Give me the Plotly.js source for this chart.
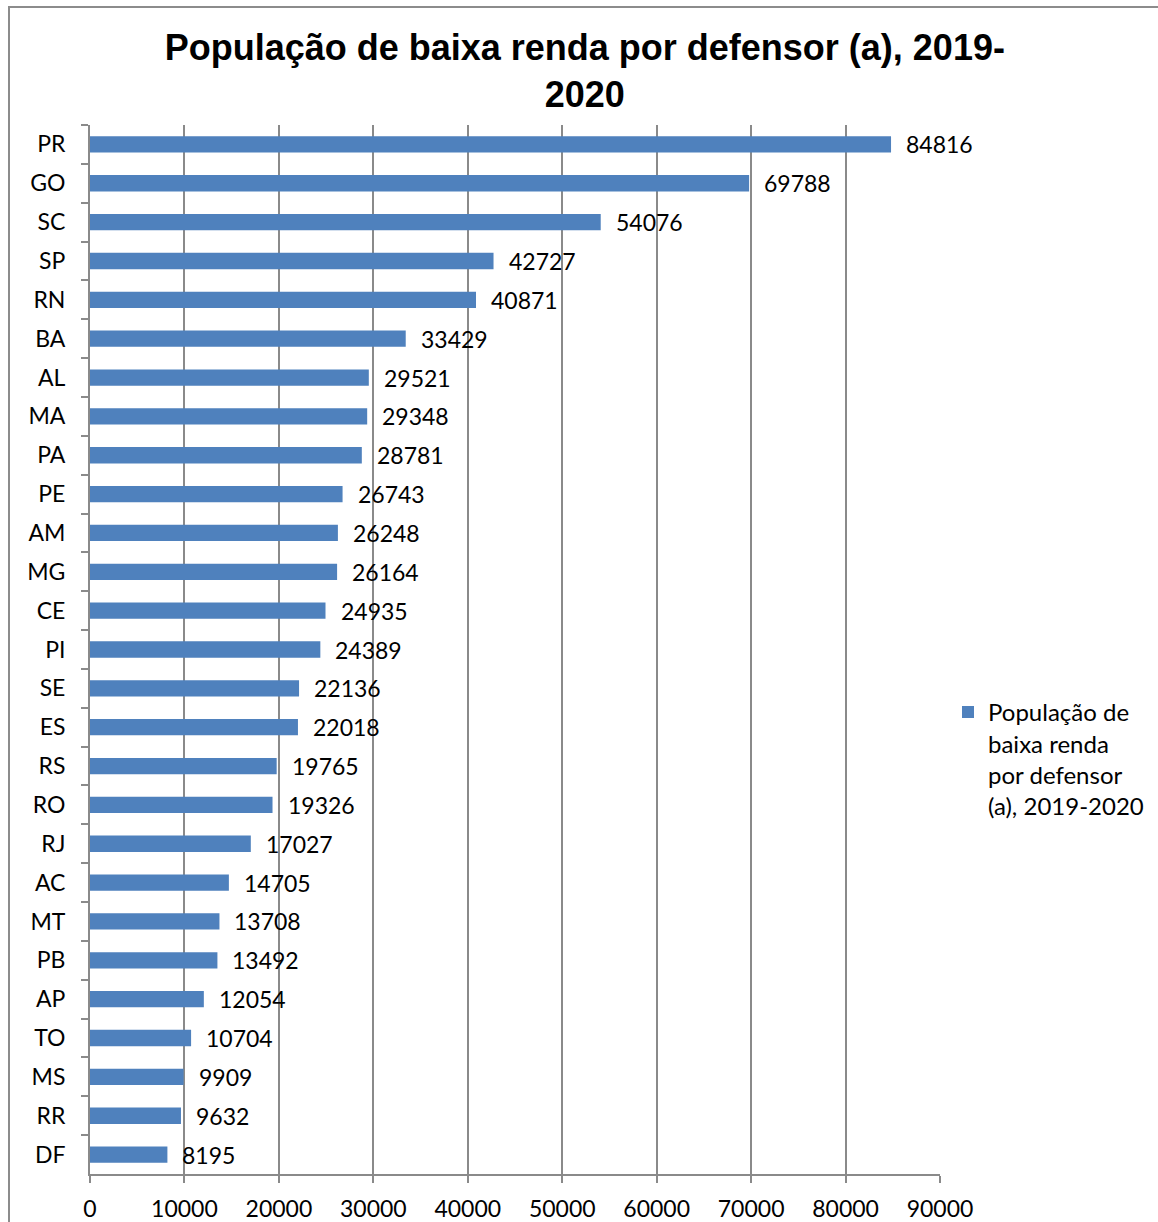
<!DOCTYPE html>
<html>
<head>
<meta charset="utf-8">
<script src="https://cdn.plot.ly/plotly-3.0.1.min.js"></script>
<style>
  html, body { margin: 0; padding: 0; background: #fff; }
  #chart { width: 1158px; height: 1222px; }
</style>
</head>
<body>
<div id="chart"></div>
<script>
const states = ["PR","GO","SC","SP","RN","BA","AL","MA","PA","PE","AM","MG","CE","PI","SE","ES","RS","RO","RJ","AC","MT","PB","AP","TO","MS","RR","DF"];
const values = [84816,69788,54076,42727,40871,33429,29521,29348,28781,26743,26248,26164,24935,24389,22136,22018,19765,19326,17027,14705,13708,13492,12054,10704,9909,9632,8195];
const seriesName = "População de<br>baixa renda<br>por defensor<br>(a), 2019-2020";
const chartTitle = "População de baixa renda por defensor (a), 2019-<br>2020";
const xTicks = [0,10000,20000,30000,40000,50000,60000,70000,80000,90000];

const labelFont = { family: "Lato, 'Open Sans', sans-serif", size: 23, color: "#000" };
const gridColor = "#8a8a8a";

const trace = {
  type: "bar",
  orientation: "h",
  y: states,
  x: values,
  name: seriesName,
  marker: { color: "#4F81BD", line: { width: 0 } },
  width: 0.42,
  showlegend: true,
  hoverinfo: "x+y"
};

const annotations = values.map((v, i) => ({
  x: v, y: states[i], xref: "x", yref: "y",
  text: String(v), showarrow: false,
  xanchor: "left", yanchor: "middle",
  xshift: 13, yshift: 0,
  font: labelFont
}));

const layout = {
  width: 1158, height: 1222,
  margin: { l: 90, r: 218, t: 125, b: 48, pad: 0, autoexpand: false },
  paper_bgcolor: "#fff", plot_bgcolor: "#fff",
  title: {
    text: chartTitle,
    font: { family: "'Liberation Sans', Arial, sans-serif", size: 36, color: "#000", weight: "bold" },
    x: 0.505, xanchor: "center", y: 0.9505, yanchor: "top"
  },
  xaxis: {
    range: [0, 90000],
    tickvals: xTicks,
    ticktext: xTicks.map(String),
    showgrid: true, gridcolor: gridColor, gridwidth: 2,
    zeroline: false,
    showline: true, linecolor: gridColor, linewidth: 2,
    ticks: "outside", ticklen: 7, tickwidth: 2, tickcolor: gridColor,
    tickfont: labelFont,
    ticklabelstandoff: 6,
    automargin: false,
    fixedrange: true
  },
  yaxis: {
    type: "category",
    autorange: "reversed",
    showgrid: false, zeroline: false,
    showline: true, linecolor: gridColor, linewidth: 2,
    ticks: "outside", tickson: "boundaries", ticklen: 7, tickwidth: 2, tickcolor: gridColor,
    tickfont: labelFont,
    ticklabelstandoff: 18,
    automargin: false,
    fixedrange: true
  },
  legend: {
    xref: "container", yref: "container",
    x: 948/1158, xanchor: "left", y: 0.379, yanchor: "middle",
    font: { family: "Lato, 'Open Sans', sans-serif", size: 24, color: "#000" },
    bgcolor: "rgba(0,0,0,0)",
    valign: "top",
    itemwidth: 30
  },
  annotations: annotations,
  shapes: [{
    type: "rect", xref: "paper", yref: "paper",
    x0: -81/850, x1: 1.6, y0: -0.2, y1: 1167/1049,
    line: { color: "#8c8c8c", width: 2 }, fillcolor: "rgba(0,0,0,0)", layer: "below"
  }],
  bargap: 0.58
};

Plotly.newPlot("chart", [trace], layout, { displayModeBar: false, staticPlot: true });
</script>
</body>
</html>
